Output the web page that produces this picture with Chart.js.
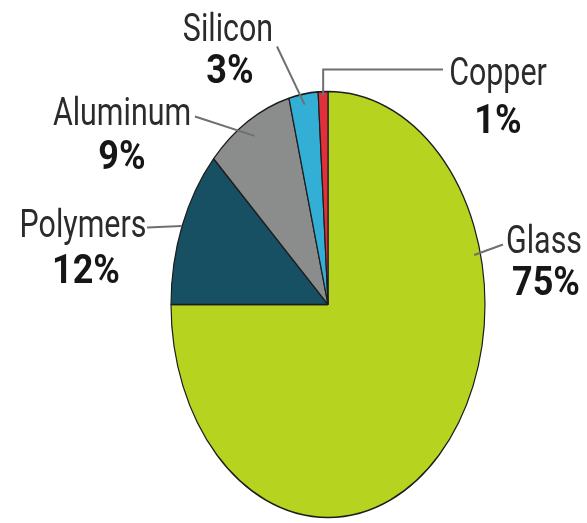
<!DOCTYPE html>
<html>
<head>
<meta charset="utf-8">
<script src="https://cdn.jsdelivr.net/npm/chart.js@4"></script>
<style>
  html, body { margin: 0; padding: 0; background: #fff; }
  #wrap { width: 587px; height: 523px; position: relative; }
</style>
</head>
<body>
<div id="wrap"><canvas id="pie"></canvas></div>
<script>
// 재료 구성 (%)
const materials = ["Glass", "Polymers", "Aluminum", "Silicon", "Copper"];
const shares = [75, 12, 9, 3, 1];
const sliceColors = ["#b6d31f", "#174f63", "#8b8d8d", "#33afd6", "#e0303c"];

// 파이를 가로로 눌러서 타원으로 그림
const squeeze = 0.737;

// 라벨 위치 (파이 중심 기준 오프셋), 지시선 꺾임점
const labelLayout = [
  { angle: 76, k: 0.96, path: [[175, -60]], name: [216, -52], pct: [218, -10] },
  { k: 1.0, path: [[-181, -77]], name: [-245, -68], pct: [-242, -22] },
  { k: 0.92, path: [[-133, -188]], name: [-206, -180], pct: [-206, -136] },
  { k: 0.95, path: [[-51, -258]], name: [-100, -264], pct: [-98, -222] },
  { k: 0.98, path: [[null, -235], [115, -235]], name: [170, -220], pct: [170, -172] },
];

// 타원 변형 적용
const ellipsePlugin = {
  id: "ellipse",
  beforeDatasetsDraw(chart) {
    const ctx = chart.ctx;
    const cx = chart.getDatasetMeta(0).data[0].x;
    ctx.save();
    ctx.translate(cx, 0);
    ctx.scale(squeeze, 1);
    ctx.translate(-cx, 0);
  },
  afterDatasetsDraw(chart) {
    chart.ctx.restore();
  },
};

// 지시선과 라벨 그리기
const labelPlugin = {
  id: "sliceLabels",
  afterDraw(chart) {
    const ctx = chart.ctx;
    const arcs = chart.getDatasetMeta(0).data;
    const cx = arcs[0].x, cy = arcs[0].y, r = arcs[0].outerRadius;

    function text(str, x, y, font, sx, color) {
      ctx.save();
      ctx.translate(x, y);
      ctx.scale(sx, 1);
      ctx.font = font;
      ctx.fillStyle = color;
      ctx.textAlign = "center";
      ctx.textBaseline = "alphabetic";
      ctx.fillText(str, 0, 0);
      ctx.restore();
    }

    labelLayout.forEach((L, i) => {
      const arc = arcs[i];
      let a = (arc.startAngle + arc.endAngle) / 2;
      if (L.angle !== undefined) a = (L.angle - 90) * Math.PI / 180;
      const x0 = cx + Math.cos(a) * r * L.k * squeeze;
      const y0 = cy + Math.sin(a) * r * L.k;

      ctx.save();
      ctx.strokeStyle = "#6f6f6f";
      ctx.lineWidth = 2;
      ctx.beginPath();
      ctx.moveTo(x0, y0);
      L.path.forEach((p) => {
        const px = p[0] === null ? x0 : cx + p[0];
        ctx.lineTo(px, cy + p[1]);
      });
      ctx.stroke();
      ctx.restore();

      text(materials[i], cx + L.name[0], cy + L.name[1], "38px Roboto", 0.8, "#2b2b2b");
      text(shares[i] + "%", cx + L.pct[0], cy + L.pct[1], "bold 40px Roboto", 0.9, "#161616");
    });
  },
};

new Chart(document.getElementById("pie"), {
  type: "pie",
  data: {
    labels: materials,
    datasets: [{
      data: shares,
      backgroundColor: sliceColors,
      borderColor: "#1c1c1c",
      borderWidth: 1.6,
      radius: 213,
    }],
  },
  options: {
    responsive: true,
    maintainAspectRatio: false,
    animation: false,
    rotation: 0,
    layout: { padding: { top: 92, bottom: 6, left: 115, right: 46 } },
    plugins: {
      legend: { display: false },
      tooltip: { enabled: false },
    },
  },
  plugins: [ellipsePlugin, labelPlugin],
});
</script>
</body>
</html>
